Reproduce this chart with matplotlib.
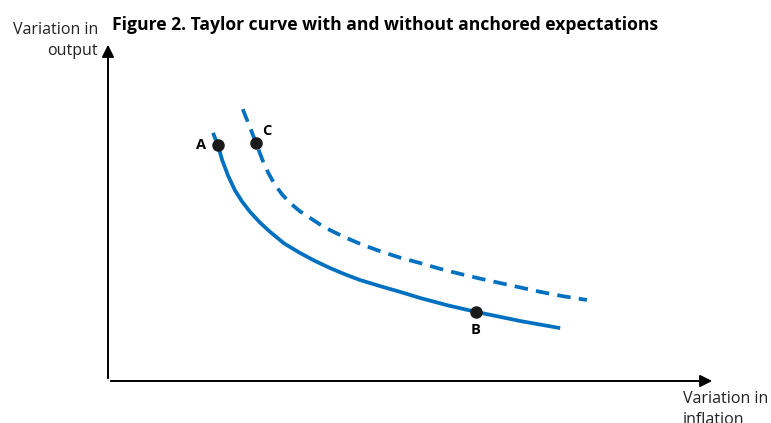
import matplotlib.pyplot as plt

# curves (data units, origin at the axes corner)
solid_x = [1.73, 1.81, 1.88, 1.98, 2.09, 2.21, 2.34, 2.50, 2.67, 2.90, 3.16, 3.40, 3.66, 3.90, 4.15, 4.48, 4.81, 5.14, 5.60, 6.06, 6.79, 7.45]
solid_y = [7.32, 6.96, 6.52, 6.05, 5.63, 5.29, 4.99, 4.68, 4.40, 4.06, 3.78, 3.55, 3.33, 3.15, 2.98, 2.80, 2.63, 2.45, 2.23, 2.04, 1.77, 1.56]
dashed_x = [2.22, 2.33, 2.44, 2.54, 2.64, 2.75, 2.87, 3.00, 3.16, 3.33, 3.49, 3.66, 3.90, 4.15, 4.48, 4.81, 5.14, 5.47, 5.80, 6.13, 6.46, 6.79, 7.12, 7.50, 7.89]
dashed_y = [8.02, 7.52, 7.02, 6.54, 6.14, 5.79, 5.50, 5.25, 5.01, 4.81, 4.62, 4.45, 4.24, 4.05, 3.83, 3.64, 3.48, 3.31, 3.16, 3.02, 2.89, 2.76, 2.63, 2.50, 2.39]
point_labels = ["A", "C", "B"]
point_x = [1.81, 2.44, 6.06]
point_y = [6.96, 7.02, 2.04]

BLUE = "#0070C0"
plt.rcParams["font.family"] = ["Open Sans", "DejaVu Sans"]

fig = plt.figure(figsize=(7.71, 4.23), dpi=100)
W, H = 771, 423
ax = fig.add_axes([108 / W, (H - 381) / H, (715 - 108) / W, (381 - 42) / H])
ax.set_xlim(0, 10)
ax.set_ylim(0, 10)
ax.axis("off")

# axes with arrows
ax.annotate("", xy=(10, 0), xytext=(0, 0),
            arrowprops=dict(arrowstyle="-|>", lw=1.4, color="black", mutation_scale=18))
ax.annotate("", xy=(0, 10), xytext=(0, 0),
            arrowprops=dict(arrowstyle="-|>", lw=1.4, color="black", mutation_scale=18))

ax.plot(solid_x, solid_y, color=BLUE, lw=2.7, solid_capstyle="butt", solid_joinstyle="round")
ax.plot(dashed_x, dashed_y, color=BLUE, lw=2.7, dashes=(3.6, 2.2), dash_capstyle="butt",
        dash_joinstyle="round")
ax.plot(point_x, point_y, "o", color="#1a1a1a", ms=8, zorder=5)

offsets = {"A": (-12, 0), "C": (8, 9), "B": (0, -13)}
for lab, x, y in zip(point_labels, point_x, point_y):
    ax.annotate(lab, (x, y), xytext=offsets[lab], textcoords="offset points",
                ha="center", va="center", fontsize=10.5, fontweight="bold")

fig.text(385 / W, 1 - 25 / H, "Figure 2. Taylor curve with and without anchored expectations",
         ha="center", va="center", fontsize=12.6, fontweight="bold")
fig.text(98 / W, 1 - 22 / H, "Variation in\noutput", ha="right", va="top",
         fontsize=11.5, color="#222222", linespacing=1.4)
fig.text(683 / W, 1 - 391 / H, "Variation in\ninflation", ha="left", va="top",
         fontsize=11.5, color="#222222", linespacing=1.4)

fig.savefig("out.png", dpi=100)
